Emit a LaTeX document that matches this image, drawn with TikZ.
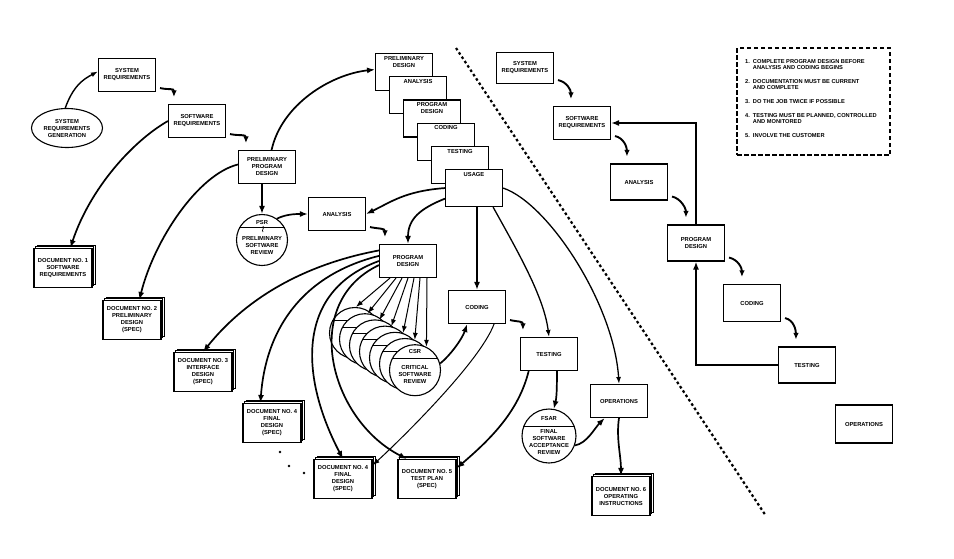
\documentclass[tikz,border=0pt]{standalone}
\usepackage{fontspec}
\setmainfont{Liberation Sans}
\usetikzlibrary{arrows.meta,shapes.geometric,shadows,calc}

\begin{document}
\begin{tikzpicture}[x=1pt,y=-1pt,
  every node/.style={font=\fontsize{5.8}{7}\selectfont\bfseries, align=center, inner sep=1pt},
  procbox/.style={draw, line width=1.1pt, fill=white, minimum width=57pt, minimum height=33pt},
  docbox/.style={draw, line width=1.1pt, fill=white, minimum width=58pt, minimum height=39pt,
    double copy shadow={shadow xshift=1.6pt, shadow yshift=1.6pt}},
  review/.style={draw, circle, line width=1.1pt, fill=white, minimum size=51pt, inner sep=0pt},
  arr/.style={line width=1pt, -{Latex[length=7pt,width=5pt]}},
  thk/.style={line width=1.7pt, -{Latex[length=8pt,width=6pt]}},
  hop/.style={line width=1.9pt, -{Latex[length=6.5pt,width=5.5pt]}}]
\useasboundingbox (0,0) rectangle (954,558);

% ---- left: the full process
\node[draw, ellipse, line width=1.1pt, minimum width=71pt, minimum height=39pt, inner sep=0pt] (srg) at (67,128) {SYSTEM\\REQUIREMENTS\\GENERATION};
\node[procbox] (sysreq) at (127,75) {SYSTEM\\REQUIREMENTS};
\node[procbox] (swreq) at (197,121) {SOFTWARE\\REQUIREMENTS};
\node[procbox] (ppd) at (267,167) {PRELIMINARY\\PROGRAM\\DESIGN};

\node[review] (psr) at (262,240) {};
\draw[line width=.8pt] (psr.152) -- (psr.28);
\node at ($(psr)+(0,-18)$) {PSR};
\draw[line width=.7pt] ($(psr)+(1,-14)$) .. controls +(2,2) and +(-2,-2) .. ($(psr)+(1,-8)$);
\node at ($(psr)+(0,5)$) {PRELIMINARY\\SOFTWARE\\REVIEW};

\foreach \t [count=\i from 0] in {{PRELIMINARY\\DESIGN},ANALYSIS,{PROGRAM\\DESIGN},CODING,TESTING,USAGE} {
  \node[procbox, minimum height=37pt, anchor=north west] (stk\i) at (375+14*\i, 53+23.2*\i) {};
  \node[below=2pt] at (stk\i.north) {\t};
}

\node[procbox] (anl) at (337,214) {ANALYSIS};
\node[procbox] (pd) at (408,261) {PROGRAM\\DESIGN};
\node[procbox] (cod) at (477,307) {CODING};
\node[procbox] (tst) at (549,354) {TESTING};
\node[procbox] (ops) at (619,401) {OPERATIONS};

% critical software reviews
\foreach \i in {1,...,7} {
  \node[review] (csr\i) at (345+10*\i, 326.8+6.2*\i) {};
  \draw[line width=.8pt] (csr\i.152) -- (csr\i.28);
}
\node at ($(csr7)+(0,-19)$) {CSR};
\node at ($(csr7)+(0,4)$) {CRITICAL\\SOFTWARE\\REVIEW};

\node[review, minimum size=54pt] (fsar) at (549,436) {};
\draw[line width=.8pt] (fsar.160) -- (fsar.20);
\node at ($(fsar)+(0,-18)$) {FSAR};
\node at ($(fsar)+(0,6)$) {FINAL\\SOFTWARE\\ACCEPTANCE\\REVIEW};

% documents
\node[docbox] (doc1) at (63,268) {DOCUMENT NO. 1\\SOFTWARE\\REQUIREMENTS};
\node[docbox] (doc2) at (132,320) {DOCUMENT NO. 2\\PRELIMINARY\\DESIGN\\(SPEC)};
\node[docbox] (doc3) at (203,372) {DOCUMENT NO. 3\\INTERFACE\\DESIGN\\(SPEC)};
\node[docbox] (doc4a) at (272,423) {DOCUMENT NO. 4\\FINAL\\DESIGN\\(SPEC)};
\node[docbox] (doc4b) at (343,479) {DOCUMENT NO. 4\\FINAL\\DESIGN\\(SPEC)};
\node[docbox] (doc5) at (427,479) {DOCUMENT NO. 5\\TEST PLAN\\(SPEC)};
\node[docbox] (doc6) at (621,496) {DOCUMENT NO. 6\\OPERATING\\INSTRUCTIONS};
\foreach \p in {(280,452),(289,466),(304,473)}
  \fill \p circle[radius=1.4pt];

\draw[arr, line width=1.4pt] (srg.95) .. controls +(8,-22) and +(-15,8) .. (sysreq.173);
\draw[thk] (swreq.west) .. controls +(-35,20) and +(20,-60) .. (doc1.70);
\draw[thk] (ppd.175) .. controls +(-40,10) and +(15,-60) .. (doc2.70);
\draw[thk] (ppd.75) .. controls +(10,-45) and +(-45,5) .. (stk0.175);
\draw[thk] (psr.north |- ppd.south) -- (psr.north);
\draw[thk] (psr.55) .. controls +(10,-5) and +(-10,0) .. (anl.west);
\draw[thk] (stk5.west) .. controls +(-40,3) and +(25,-12) .. (anl.east);
\draw[thk] (stk5.200) .. controls +(-25,10) and +(0,-25) .. (pd.north);
\draw[thk] (cod.north |- stk5.south) -- (cod.north);
\draw[arr, line width=1.3pt] (stk5.-45) .. controls +(25,45) and +(-5,-40) .. (tst.north);
\draw[arr, line width=1.3pt] (stk5.east) .. controls +(45,15) and +(-5,-80) .. (ops.north);
\foreach \i/\s/\a in {1/-18/88, 2/-12/84, 3/-6/80, 4/0/76, 5/6/72, 6/12/68, 7/19/64}
  \draw[arr] ($(pd.south)+(\s,0)$) -- (csr\i.\a);
\draw[thk] (pd.160) .. controls +(-80,15) and +(40,-50) .. (doc3.north);
\draw[thk] (pd.170) .. controls +(-80,20) and +(5,-70) .. (doc4a.120);
\draw[thk] (pd.180) .. controls +(-85,31) and +(-42,-80) .. (doc4b.north);
\draw[thk] (pd.188) .. controls +(-80,38) and +(-77,-39) .. (doc5.135);
\draw[thk] (csr7.15) .. controls +(10,-8) and +(-5,15) .. (cod.-120);
\draw[arr] (cod.-45) .. controls +(-15,40) and +(20,-18) .. (doc4b.25);
\draw[thk] (tst.-140) .. controls +(-10,40) and +(35,-30) .. (doc5.20);
\draw[thk] (tst.-65) .. controls +(0,15) and +(3,-12) .. (fsar.80);
\draw[thk] (fsar.-20) .. controls +(12,-2) and +(-10,10) .. (ops.-130);
\draw[thk] (ops.south) .. controls +(-3,20) and +(0,-20) .. (doc6.north);

% ---- divider
\coordinate (divtop) at (456,48);
\coordinate (divbot) at (766,516);
\draw[line width=2.2pt, dash pattern=on 2.6pt off 2.6pt] (divtop) -- (divbot);

% ---- right: do it twice
\node[procbox, minimum height=31pt] (rsys) at (525,68) {SYSTEM\\REQUIREMENTS};
\node[procbox] (rswr) at (582,123) {SOFTWARE\\REQUIREMENTS};
\node[procbox, minimum height=36pt] (ranl) at (639,182) {ANALYSIS};
\node[procbox, minimum height=36pt] (rpd) at (696,243) {PROGRAM\\DESIGN};
\node[procbox, minimum height=37pt] (rcod) at (752,303) {CODING};
\node[procbox, minimum height=36pt] (rtst) at (807,365) {TESTING};
\node[procbox, minimum height=38pt] (rops) at (864,424) {OPERATIONS};

\draw[thk, line width=1.5pt] (rpd.north) |- (rswr.east);
\draw[thk, line width=1.5pt] (rtst.west) -| (rpd.south);

\foreach \a/\b/\dx in {sysreq/swreq/6, swreq/ppd/8, anl/pd/6, cod/tst/3, rsys/rswr/18, rswr/ranl/17, ranl/rpd/19, rpd/rcod/19, rcod/rtst/18}
  \draw[hop] ($(\a.south east)+(4,-4)$) .. controls +(9,2) and +(0,-9) .. ($(\b.north west)+(\dx,-7)$);

% ---- rules
\node[draw, line width=1.8pt, dash pattern=on 4.5pt off 2.5pt, minimum width=153pt, minimum height=107pt] (rules) at (813.5,101.5) {};
\node[anchor=north west, align=left, font=\fontsize{5.7}{6}\selectfont\bfseries] (ruletext) at (744,58) {%
\begin{tabular}{@{}l@{\hspace{3pt}}l@{}}
1. & COMPLETE PROGRAM DESIGN BEFORE\\
   & ANALYSIS AND CODING BEGINS\\[8pt]
2. & DOCUMENTATION MUST BE CURRENT\\
   & AND COMPLETE\\[8pt]
3. & DO THE JOB TWICE IF POSSIBLE\\[8pt]
4. & TESTING MUST BE PLANNED, CONTROLLED\\
   & AND MONITORED\\[8pt]
5. & INVOLVE THE CUSTOMER
\end{tabular}};
\end{tikzpicture}
\end{document}
